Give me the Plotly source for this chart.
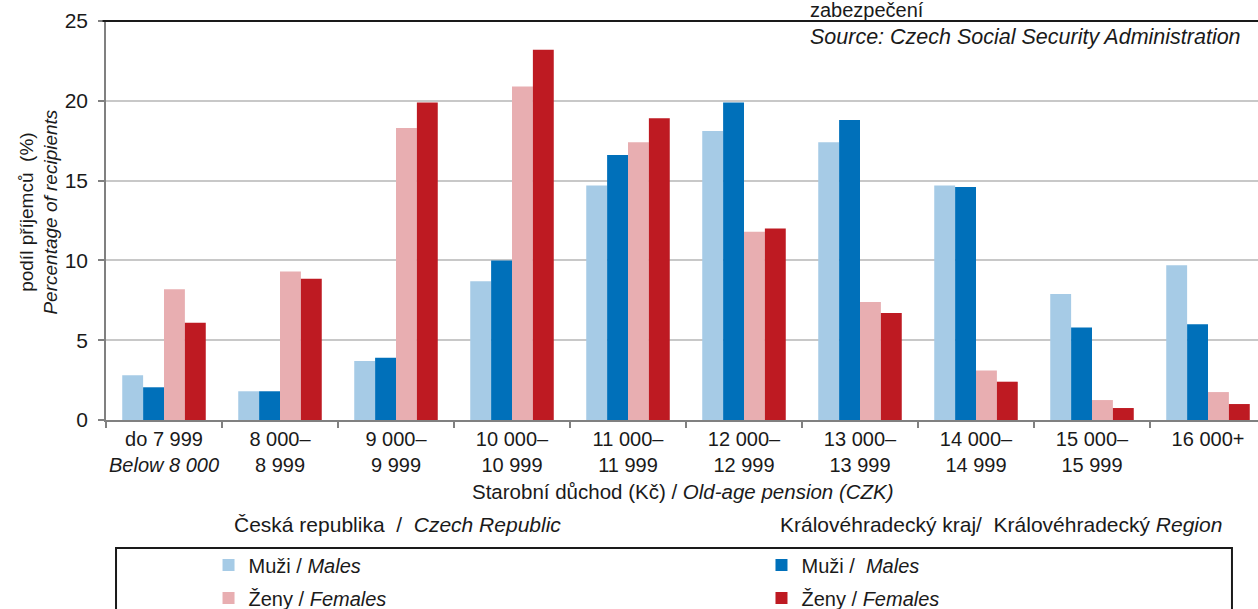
import plotly.graph_objects as go

# pension brackets (CZK)
categories = ["do 7 999<br><i>Below 8 000</i>", "8 000–<br>8 999", "9 000–<br>9 999",
              "10 000–<br>10 999", "11 000–<br>11 999", "12 000–<br>12 999",
              "13 000–<br>13 999", "14 000–<br>14 999", "15 000–<br>15 999", "16 000+"]

# share of recipients (%)
cz_males = [2.8, 1.8, 3.7, 8.7, 14.7, 18.1, 17.4, 14.7, 7.9, 9.7]
kh_males = [2.05, 1.8, 3.9, 10.0, 16.6, 19.9, 18.8, 14.6, 5.8, 6.0]
cz_females = [8.2, 9.3, 18.3, 20.9, 17.4, 11.8, 7.4, 3.1, 1.25, 1.75]
kh_females = [6.1, 8.85, 19.9, 23.2, 18.9, 12.0, 6.7, 2.4, 0.75, 1.0]

FONT = "Liberation Sans, Arial, sans-serif"
TXT = "#1a1a1a"

fig = go.Figure()
series = [
    ("Muži / <i>Males</i>", cz_males, "#A6CBE6", "legend", "g1"),
    ("Muži /  <i>Males</i>", kh_males, "#0070BA", "legend2", "g2"),
    ("Ženy / <i>Females</i>", cz_females, "#E8AEB1", "legend", "g3"),
    ("Ženy / <i>Females</i>", kh_females, "#BE1A22", "legend2", "g4"),
]
for name, vals, col, leg, grp in series:
    fig.add_trace(go.Bar(
        x=categories, y=vals, name=name, marker=dict(color=col, line=dict(width=0)),
        legend=leg, legendgroup=grp,
    ))

leg_common = dict(
    font=dict(family=FONT, size=20, color=TXT),
    bgcolor="rgba(0,0,0,0)", borderwidth=0,
    traceorder="grouped", tracegroupgap=4,
    yanchor="top", xanchor="left", itemwidth=30,
)

# plot runs a little past the right edge, as in the cropped original
fig.update_layout(
    width=1258, height=609,
    margin=dict(l=106, r=0, t=21, b=189, autoexpand=False),
    plot_bgcolor="white", paper_bgcolor="white",
    barmode="group", bargap=0.28, bargroupgap=0,
    font=dict(family=FONT, size=20, color=TXT),
    showlegend=True,
    legend=dict(x=0.089, y=-0.3145, **leg_common),
    legend2=dict(x=0.569, y=-0.3145, **leg_common),
    xaxis=dict(
        type="category", range=[-0.5, 9.431], tickson="boundaries", automargin=False,
        tickangle=0,
        ticks="outside", ticklen=6, tickwidth=1.5, tickcolor="#808080",
        showline=True, linecolor="#808080", linewidth=1.5,
        tickfont=dict(size=20, color=TXT), showgrid=False,
    ),
    yaxis=dict(
        range=[0, 25], dtick=5, ticks="outside", ticklen=6, tickwidth=1.5, automargin=False,
        ticklabelstandoff=6,
        tickcolor="#808080", showline=True, linecolor="#808080", linewidth=1.5,
        gridcolor="#C8C8C8", gridwidth=1.5, zeroline=False,
        tickfont=dict(size=21, color=TXT),
    ),
    shapes=[
        dict(type="line", xref="paper", yref="paper", x0=-0.003, x1=1, y0=1, y1=1,
             line=dict(color="#1a1a1a", width=2)),
        dict(type="rect", xref="paper", yref="paper", x0=0.0087, x1=0.9774, y0=-0.3208, y1=-0.6,
             line=dict(color="#1a1a1a", width=2)),
    ],
    annotations=[
        dict(text="podíl příjemců  (%)<br><i>Percentage of recipients</i>", textangle=-90,
             x=-0.059, y=0.52, xref="paper", yref="paper", xanchor="center", yanchor="middle",
             showarrow=False, font=dict(size=19)),
        dict(text="zabezpečení", x=0.609, y=1.0276, xref="paper", yref="paper",
             xanchor="left", yanchor="middle", showarrow=False, font=dict(size=20)),
        dict(text="<i>Source: Czech Social Security Administration</i>", x=0.609, y=0.96,
             xref="paper", yref="paper", xanchor="left", yanchor="middle", showarrow=False,
             font=dict(size=21.5)),
        dict(text="Starobní důchod (Kč) / <i>Old-age pension (CZK)</i>", x=0.5009, y=-0.178,
             xref="paper", yref="paper", xanchor="center", yanchor="middle", showarrow=False,
             font=dict(size=20.5)),
        dict(text="Česká republika  /  <i>Czech Republic</i>", x=0.1094, y=-0.263,
             xref="paper", yref="paper", xanchor="left", yanchor="middle", showarrow=False,
             font=dict(size=21)),
        dict(text="Královéhradecký kraj/  Královéhradecký <i>Region</i>", x=0.5833, y=-0.263,
             xref="paper", yref="paper", xanchor="left", yanchor="middle", showarrow=False,
             font=dict(size=21)),
    ],
)

# drop the browser's default body margin so the figure sits at the page corner
fig.write_html("out.html", config={"displayModeBar": False},
               post_script="document.body.style.margin='0';")
